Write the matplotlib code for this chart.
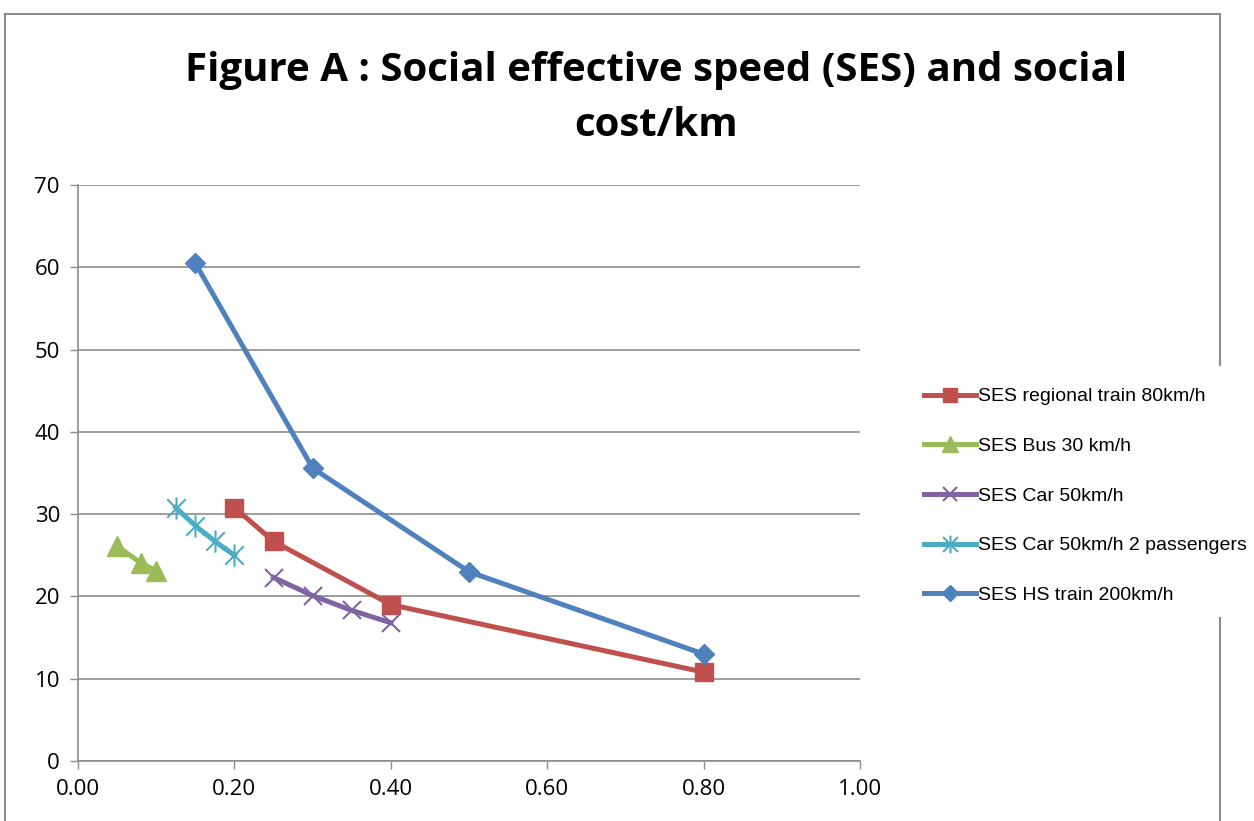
import matplotlib
matplotlib.use("Agg")
import matplotlib.pyplot as plt
from matplotlib.lines import Line2D
from matplotlib.path import Path

# Data
regional_x = [0.20, 0.25, 0.40, 0.80]
regional_y = [30.8, 26.7, 19.0, 10.8]
bus_x = [0.05, 0.08, 0.10]
bus_y = [26.1, 24.1, 23.1]
car_x = [0.25, 0.30, 0.35, 0.40]
car_y = [22.3, 20.1, 18.3, 16.8]
car2_x = [0.125, 0.15, 0.175, 0.20]
car2_y = [30.8, 28.6, 26.7, 25.0]
hs_x = [0.15, 0.30, 0.50, 0.80]
hs_y = [60.5, 35.6, 23.0, 13.0]

labels = ["SES regional train 80km/h", "SES Bus 30 km/h", "SES Car 50km/h",
          "SES Car 50km/h 2 passengers", "SES HS train 200km/h"]
x_ticks = [0.0, 0.2, 0.4, 0.6, 0.8, 1.0]
y_ticks = [0, 10, 20, 30, 40, 50, 60, 70]

# Excel-style star marker: X plus vertical bar
star = Path([(-0.5, -0.5), (0.5, 0.5), (-0.5, 0.5), (0.5, -0.5), (0, -0.6), (0, 0.6)],
            [Path.MOVETO, Path.LINETO, Path.MOVETO, Path.LINETO, Path.MOVETO, Path.LINETO])

W, H = 1254, 821
fig = plt.figure(figsize=(W / 100, H / 100), dpi=100)
ax = fig.add_axes([78 / W, 1 - 761 / H, (860 - 78) / W, (761 - 185) / H])

lw = 3.6
ax.plot(regional_x, regional_y, color="#C0504D", lw=lw, marker="s", ms=13, label=labels[0], zorder=3)
ax.plot(bus_x, bus_y, color="#9BBB59", lw=lw, marker="^", ms=14, label=labels[1], zorder=3)
ax.plot(car_x, car_y, color="#8064A2", lw=lw, marker="x", ms=13, mew=1.5, label=labels[2], zorder=3)
ax.plot(car2_x, car2_y, color="#4BACC6", lw=lw, marker=star, ms=16, mew=1.5, label=labels[3], zorder=3)
ax.plot(hs_x, hs_y, color="#4F81BD", lw=lw, marker="D", ms=10, label=labels[4], zorder=3)

ax.set_xlim(0, 1.0)
ax.set_ylim(0, 70)
ax.set_xticks(x_ticks)
ax.set_xticklabels([f"{v:.2f}" for v in x_ticks])
ax.set_yticks(y_ticks)
ax.grid(axis="y", color="#8C8C8C", lw=1.2)
ax.set_axisbelow(True)
for s in ["top", "right"]:
    ax.spines[s].set_visible(False)
for s in ["left", "bottom"]:
    ax.spines[s].set_color("#8C8C8C")
    ax.spines[s].set_linewidth(1.2)
ax.tick_params(axis="both", color="#8C8C8C", length=6, width=1, labelsize=16, direction="out", pad=7)
for t in ax.get_xticklabels() + ax.get_yticklabels():
    t.set_fontfamily("Open Sans")

fig.text(656 / W, 1 - 98 / H, "Figure A : Social effective speed (SES) and social\ncost/km",
         ha="center", va="center", fontsize=29, fontweight="bold", family="Open Sans",
         linespacing=1.5)

# frame
fc = "#8C8C8C"
fig.add_artist(Line2D([5 / W, 5 / W], [0, 1 - 14 / H], color=fc, lw=1.5, transform=fig.transFigure))
fig.add_artist(Line2D([5 / W, 1220 / W], [1 - 14 / H, 1 - 14 / H], color=fc, lw=1.5, transform=fig.transFigure))
fig.add_artist(Line2D([1220 / W, 1220 / W], [1 - 14 / H, 1 - 365 / H], color=fc, lw=1.5, transform=fig.transFigure))
fig.add_artist(Line2D([1220 / W, 1220 / W], [1 - 618 / H, 0], color=fc, lw=1.5, transform=fig.transFigure))

handles, labs = ax.get_legend_handles_labels()
leg = fig.legend(handles, labs, loc="upper left", bbox_to_anchor=(916 / W, 1 - 380 / H),
                 frameon=False, prop={"family": "Liberation Sans", "size": 14},
                 handlelength=2.7, handletextpad=0.1, labelspacing=1.65, borderaxespad=0,
                 markerscale=0.8)

fig.savefig("out.png", dpi=100)
